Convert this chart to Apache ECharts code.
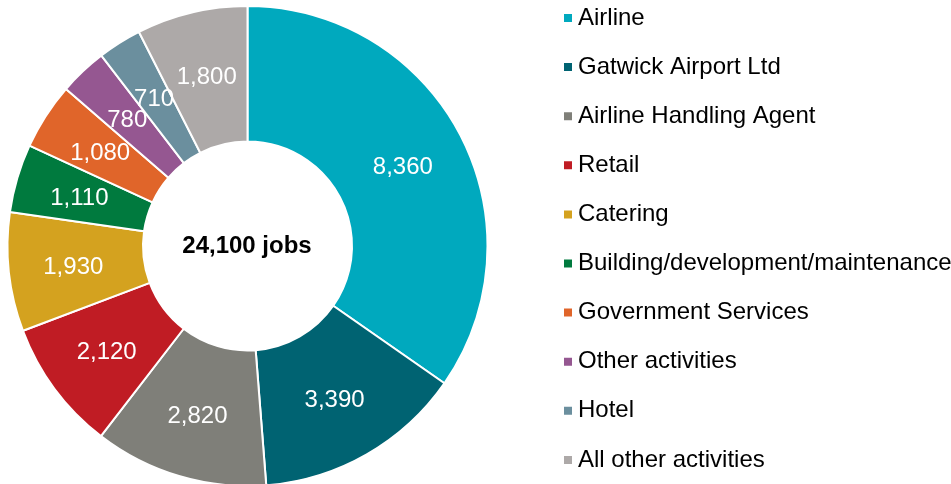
<!DOCTYPE html>
<html>
<head>
<meta charset="utf-8">
<script src="https://cdn.jsdelivr.net/npm/echarts@6/dist/echarts.min.js"></script>
<style>
  html, body { margin: 0; padding: 0; background: #fff; }
  #chart { width: 951px; height: 484px; }
</style>
</head>
<body>
<div id="chart"></div>
<script>
// Jobs on the airport site by employer type
const categories = [
  'Airline', 'Gatwick Airport Ltd', 'Airline Handling Agent', 'Retail', 'Catering',
  'Building/development/maintenance', 'Government Services', 'Other activities', 'Hotel',
  'All other activities'
];
const jobs = [8360, 3390, 2820, 2120, 1930, 1110, 1080, 780, 710, 1800];
const colors = [
  '#00A9BE', '#006372', '#7F7F79', '#C01C24', '#D4A21F',
  '#007A3E', '#E0652A', '#955791', '#6B8F9E', '#ADA9A8'
];

const total = jobs.reduce((a, b) => a + b, 0);
const fmt = v => v.toLocaleString('en-GB');
const FONT = 'Liberation Sans, Arial, sans-serif';

const chart = echarts.init(document.getElementById('chart'));
chart.setOption({
  animation: false,
  color: colors,
  legend: {
    orient: 'vertical',
    left: 562,
    top: 6,
    padding: 0,
    icon: 'rect',
    itemWidth: 10,
    itemHeight: 10,
    itemGap: 25.1,
    textStyle: {
      fontFamily: FONT,
      fontSize: 24,
      lineHeight: 24,
      color: '#000'
    },
    data: categories
  },
  graphic: [{
    type: 'text',
    x: 247,
    y: 246,
    style: {
      text: fmt(total) + ' jobs',
      align: 'center',
      verticalAlign: 'middle',
      fontFamily: FONT,
      fontSize: 24,
      fontWeight: 'bold',
      fill: '#000'
    }
  }],
  series: [{
    type: 'pie',
    center: [247.5, 246],
    radius: [104.5, 240],
    startAngle: 90,
    clockwise: true,
    avoidLabelOverlap: false,
    minShowLabelAngle: 0,
    itemStyle: { borderColor: '#fff', borderWidth: 2 },
    label: {
      show: true,
      position: 'inside',
      color: '#fff',
      fontFamily: FONT,
      fontSize: 24,
      offset: [0, 2],
      formatter: p => fmt(p.value)
    },
    labelLayout: { hideOverlap: false },
    labelLine: { show: false },
    emphasis: { disabled: true },
    data: categories.map((name, i) => ({ name, value: jobs[i] }))
  }]
});
</script>
</body>
</html>
